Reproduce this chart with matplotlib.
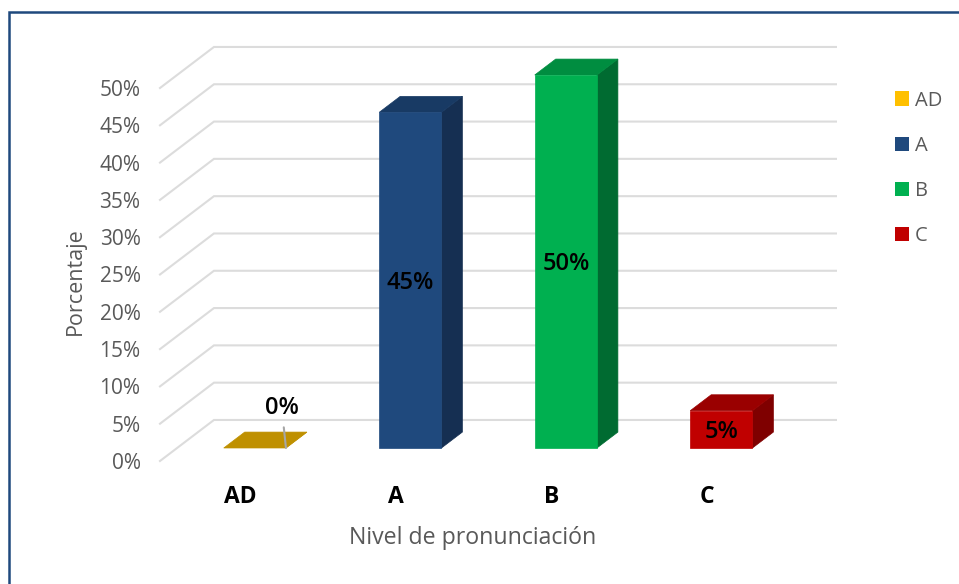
import matplotlib
matplotlib.use('Agg')
import matplotlib.pyplot as plt
from matplotlib.lines import Line2D
from matplotlib.patches import Patch
from matplotlib.transforms import ScaledTranslation

plt.rcParams['font.family'] = ['Open Sans', 'DejaVu Sans']

categories = ['AD', 'A', 'B', 'C']
values = [0, 45, 50, 5]
y_ticks = [0, 5, 10, 15, 20, 25, 30, 35, 40, 45, 50]

front_colors = ['#FFC000', '#1F497D', '#00B050', '#C00000']
top_colors = ['#BF9000', '#183A64', '#008D40', '#9A0000']
side_colors = ['#BF9000', '#152F52', '#006B31', '#7F0000']

# oblique offset for full floor depth, in data units
depth_x = 0.347
depth_y = 5.5
bar_width = 0.4
bar_depth_start = 0.317
bar_depth_end = 0.705


def project(x, y, depth):
    return x + depth * depth_x, y + depth * depth_y


def face(ax, points, color, zorder):
    xs = [p[0] for p in points]
    ys = [p[1] for p in points]
    ax.fill(xs, ys, color=color, lw=0.5, clip_on=False, zorder=zorder)


def draw_bar(ax, i, value):
    x0 = i - bar_width / 2
    x1 = i + bar_width / 2
    d0 = bar_depth_start
    d1 = bar_depth_end
    face(ax, [project(x1, 0, d0), project(x1, 0, d1), project(x1, value, d1), project(x1, value, d0)],
         side_colors[i], 3)
    face(ax, [project(x0, value, d0), project(x1, value, d0), project(x1, value, d1), project(x0, value, d1)],
         top_colors[i], 3)
    if value > 0:
        face(ax, [project(x0, 0, d0), project(x1, 0, d0), project(x1, value, d0), project(x0, value, d0)],
             front_colors[i], 4)


fig = plt.figure(figsize=(9.59, 5.84), dpi=100)
ax = fig.add_axes([160 / 959, (584 - 461) / 584, 622 / 959, 373 / 584])
ax.set_xlim(-0.5, 3.5)
ax.set_ylim(0, 50)

for v in y_ticks:
    bx, by = project(-0.5, v, 1)
    ex, ey = project(3.5, v, 1)
    ax.plot([-0.5, bx, ex], [v, by, ey], color='#DCDCDC', lw=1.5, clip_on=False, zorder=1,
            solid_joinstyle='miter')

for i, v in enumerate(values):
    draw_bar(ax, i, v)
    lx, ly = project(i, v / 2, bar_depth_start)
    if v > 0:
        ax.text(lx, ly - 0.4, '%d%%' % v, ha='center', va='center', fontsize=17, fontweight='semibold',
                color='black', zorder=6)
    else:
        ax.annotate('%d%%' % v, xy=project(i + bar_width / 2, 0, bar_depth_start), xytext=(-3, 28.5),
                    textcoords='offset points', ha='center', va='center', fontsize=17,
                    fontweight='semibold', color='black', zorder=6,
                    arrowprops=dict(arrowstyle='-', color='#A6A6A6', lw=1.5, shrinkA=3, shrinkB=0))

for s in ax.spines.values():
    s.set_visible(False)
ax.patch.set_visible(False)

ax.set_yticks(y_ticks)
ax.set_yticklabels(['%d%%' % v for v in y_ticks], fontsize=15, color='#595959')
ax.set_xticks(range(len(categories)))
ax.set_xticklabels(categories, fontsize=16.5, fontweight='bold', color='black')
ax.tick_params(axis='y', length=0, pad=14)
ax.tick_params(axis='x', length=0, pad=17)
for label in ax.get_xticklabels():
    label.set_transform(label.get_transform() + ScaledTranslation(2.5 / 100, 0, fig.dpi_scale_trans))

ax.set_xlabel('Nivel de pronunciación', fontsize=16.7, color='#595959')
ax.xaxis.set_label_coords((473 - 160) / 622, -(538 - 461) / 373, transform=ax.transAxes)
ax.xaxis.label.set_va('center')
ax.set_ylabel('Porcentaje', fontsize=15.5, color='#595959')
ax.yaxis.set_label_coords(-(160 - 75) / 622, (461 - 281) / 373, transform=ax.transAxes)
ax.yaxis.label.set_va('center')

handles = [Patch(facecolor=c, edgecolor='none', label=n) for c, n in zip(front_colors, categories)]
ax.legend(handles=handles, loc='upper left', bbox_to_anchor=(895 / 959, (584 - 90.5) / 584),
          bbox_transform=fig.transFigure, frameon=False, fontsize=14.5, labelcolor='#595959',
          handlelength=0.7, handleheight=0.7, handletextpad=0.3, labelspacing=1.25,
          borderpad=0, borderaxespad=0)

# frame around the chart, only top and left show
fig.add_artist(Line2D([9 / 959, 9 / 959, 1], [0, (584 - 11.5) / 584, (584 - 11.5) / 584],
                      color='#1F497D', lw=1.8, solid_joinstyle='miter'))

fig.savefig('out.png', dpi=100)
